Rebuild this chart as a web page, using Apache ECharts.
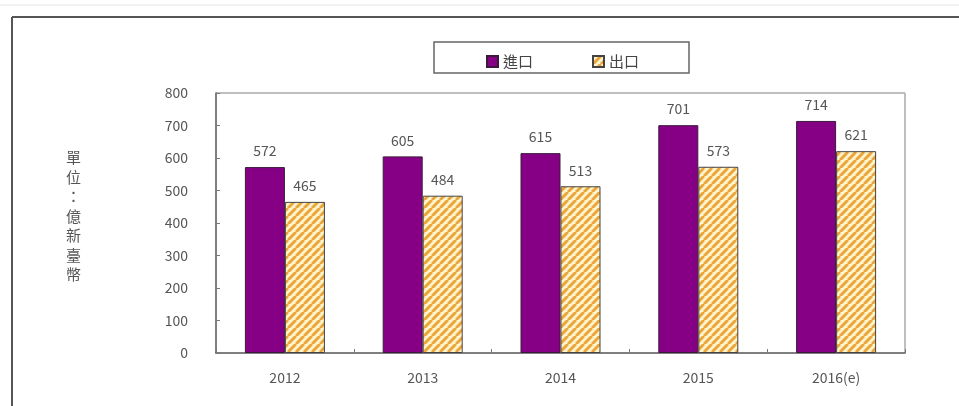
<!DOCTYPE html>
<html>
<head>
<meta charset="utf-8">
<script src="https://cdn.jsdelivr.net/npm/echarts@6/dist/echarts.min.js"></script>
<style>
  html, body { margin: 0; padding: 0; background: #fff; }
  #chart { width: 959px; height: 406px; }
</style>
</head>
<body>
<div id="chart"></div>
<script>
// Trade values, unit: 100 million NTD
const years = ['2012', '2013', '2014', '2015', '2016(e)'];
const importValues = [572, 605, 615, 701, 714];
const exportValues = [465, 484, 513, 573, 621];
const yTicks = [0, 100, 200, 300, 400, 500, 600, 700, 800];

const FONT = '"Noto Sans CJK TC", "Noto Sans", sans-serif';

// Diagonal orange stripes on a cream background for the export bars
function stripePattern() {
  const s = 8;
  const c = document.createElement('canvas');
  c.width = s; c.height = s;
  const g = c.getContext('2d');
  g.fillStyle = '#fff4cc';
  g.fillRect(0, 0, s, s);
  g.strokeStyle = '#eba53a';
  g.lineWidth = 3;
  g.beginPath();
  for (let k = -1; k <= 1; k++) {
    g.moveTo(k * s, s);
    g.lineTo(k * s + s, 0);
  }
  g.stroke();
  return c;
}
const stripes = { image: stripePattern(), repeat: 'repeat' };

const chart = echarts.init(document.getElementById('chart'));
chart.setOption({
  animation: false,
  textStyle: { fontFamily: FONT },
  graphic: [
    // outer frame
    { type: 'line', shape: { x1: 0, y1: 5, x2: 959, y2: 5 }, style: { stroke: '#e6e6e6', lineWidth: 1 } },
    { type: 'line', shape: { x1: 12, y1: 17, x2: 959, y2: 17 }, style: { stroke: '#555', lineWidth: 2 } },
    { type: 'line', shape: { x1: 12, y1: 17, x2: 12, y2: 406 }, style: { stroke: '#555', lineWidth: 2 } },
    // plot frame (top and right)
    { type: 'line', shape: { x1: 216, y1: 93, x2: 905, y2: 93 }, style: { stroke: '#aaa', lineWidth: 1.5 } },
    { type: 'line', shape: { x1: 905, y1: 93, x2: 905, y2: 353 }, style: { stroke: '#aaa', lineWidth: 1.5 } },
    // legend box
    { type: 'polygon', shape: { points: [[434, 42], [689, 42], [689, 73], [434, 73]] }, style: { fill: 'none', stroke: '#666', lineWidth: 1.5 }, z: 0 },
    // vertical unit label
    {
      type: 'text', left: 66, top: 148,
      style: {
        text: '單\n位\n：\n億\n新\n臺\n幣',
        font: '15px ' + FONT, fill: '#555', lineHeight: 19.5, align: 'center'
      }
    }
  ],
  legend: {
    top: 49, left: 481,
    itemWidth: 11, itemHeight: 11, itemGap: 59,
    textStyle: { fontSize: 15, color: '#444', fontFamily: FONT },
    data: [
      { name: '進口', icon: 'rect' },
      { name: '出口', icon: 'rect' }
    ]
  },
  grid: { left: 216, top: 93, right: 54, bottom: 53 },
  xAxis: {
    type: 'category',
    data: years,
    axisLine: { lineStyle: { color: '#555', width: 1.5 } },
    axisTick: { show: true, inside: true, length: 4, lineStyle: { color: '#777' } },
    axisLabel: { color: '#555', fontSize: 14, margin: 18, fontFamily: FONT }
  },
  yAxis: {
    type: 'value',
    min: 0, max: 800, interval: 100,
    axisLine: { show: true, lineStyle: { color: '#555', width: 1.5 } },
    axisTick: { show: true, inside: true, length: 4, lineStyle: { color: '#777' } },
    splitLine: { show: false },
    axisLabel: {
      color: '#555', fontSize: 14, margin: 28, fontFamily: FONT,
      formatter: v => (yTicks.includes(v) ? String(v) : '')
    }
  },
  series: [
    {
      name: '進口', type: 'bar', data: importValues,
      barWidth: 40, barGap: '0%',
      itemStyle: { color: '#850085', borderColor: '#3a1a3a', borderWidth: 1 },
      label: { show: true, position: 'top', distance: 9, color: '#555', fontSize: 14, fontFamily: FONT }
    },
    {
      name: '出口', type: 'bar', data: exportValues,
      barWidth: 40,
      itemStyle: { color: stripes, borderColor: '#444', borderWidth: 1 },
      label: { show: true, position: 'top', distance: 9, color: '#555', fontSize: 14, fontFamily: FONT }
    }
  ]
});
</script>
</body>
</html>
